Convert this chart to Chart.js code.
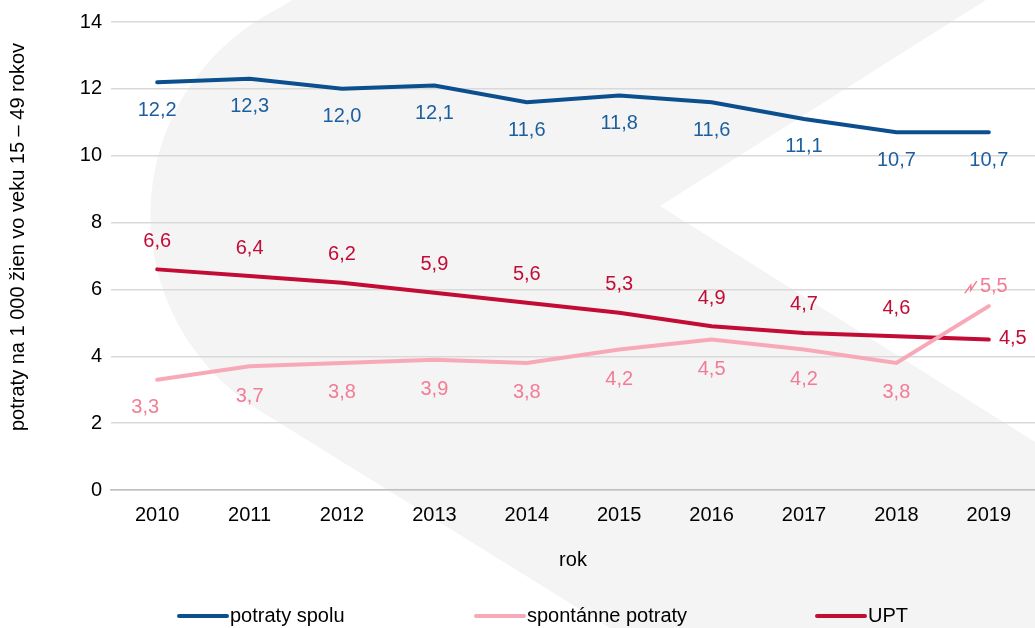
<!DOCTYPE html>
<html lang="sk">
<head>
<meta charset="utf-8">
<title>Potraty</title>
<script src="https://cdn.jsdelivr.net/npm/chart.js@4.4.1/dist/chart.umd.min.js"></script>
<style>
  html, body { margin: 0; padding: 0; background: #fff; }
  #wrap { width: 1035px; height: 628px; }
</style>
</head>
<body>
<div id="wrap"><canvas id="chart" width="1035" height="628"></canvas></div>
<script>
const years = ['2010', '2011', '2012', '2013', '2014', '2015', '2016', '2017', '2018', '2019'];
const potratySpolu = [12.2, 12.3, 12.0, 12.1, 11.6, 11.8, 11.6, 11.1, 10.7, 10.7];
const spontannePotraty = [3.3, 3.7, 3.8, 3.9, 3.8, 4.2, 4.5, 4.2, 3.8, 5.5];
const upt = [6.6, 6.4, 6.2, 5.9, 5.6, 5.3, 4.9, 4.7, 4.6, 4.5];
const yTicks = [0, 2, 4, 6, 8, 10, 12, 14];
const yTitle = 'potraty na 1 000 žien vo veku 15 – 49 rokov';

const FONT = "'Liberation Sans', Arial, sans-serif";
const fmt = (v) => v.toFixed(1).replace('.', ',');

// light grey chevron in the background
const watermark = {
  id: 'watermark',
  beforeDraw(chart) {
    const ctx = chart.ctx;
    ctx.save();
    ctx.fillStyle = '#f4f4f4';
    ctx.beginPath();
    ctx.moveTo(293, 0);
    ctx.lineTo(986, 0);
    ctx.lineTo(660, 206);
    ctx.lineTo(1035, 442);
    ctx.lineTo(1035, 628);
    ctx.lineTo(610, 628);
    ctx.arcTo(-70, 206, 293, 0, 230);
    ctx.closePath();
    ctx.fill();
    ctx.restore();
  },
};

// y title sits a bit above the middle of the plot, so draw it by hand
const sideTitle = {
  id: 'sideTitle',
  afterDraw(chart) {
    const ctx = chart.ctx;
    ctx.save();
    ctx.translate(18, 237);
    ctx.rotate(-Math.PI / 2);
    ctx.font = `20px ${FONT}`;
    ctx.fillStyle = '#000';
    ctx.textAlign = 'center';
    ctx.textBaseline = 'middle';
    ctx.fillText(yTitle, 0, 0);
    ctx.restore();
  },
};

// value labels, per dataset offset
const valueLabels = {
  id: 'valueLabels',
  afterDatasetsDraw(chart) {
    const ctx = chart.ctx;
    ctx.save();
    ctx.font = `20px ${FONT}`;
    ctx.textAlign = 'center';
    ctx.textBaseline = 'middle';
    chart.data.datasets.forEach((ds, di) => {
      const meta = chart.getDatasetMeta(di);
      ctx.fillStyle = ds.labelColor;
      meta.data.forEach((pt, i) => {
        let x = pt.x;
        let y = pt.y + ds.labelOffset;
        const last = i === meta.data.length - 1;
        if (di === 2 && last) {
          x = pt.x + 24;
          y = pt.y - 1;
        }
        if (di === 1 && i === 0) {
          x = pt.x - 12;
          y = pt.y + 28;
        }
        if (di === 1 && last) {
          x = pt.x + 5;
          y = pt.y - 20;
          // small leader mark
          ctx.save();
          ctx.strokeStyle = ds.labelColor;
          ctx.lineWidth = 1.5;
          ctx.beginPath();
          ctx.moveTo(x - 29, y + 7);
          ctx.lineTo(x - 23, y - 1);
          ctx.lineTo(x - 23, y + 4);
          ctx.lineTo(x - 17, y - 5);
          ctx.stroke();
          ctx.restore();
        }
        ctx.fillText(fmt(ds.data[i]), x, y);
      });
    });
    ctx.restore();
  },
};

// legend drawn by hand so the wide gaps match
const bottomLegend = {
  id: 'bottomLegend',
  afterDraw(chart) {
    const ctx = chart.ctx;
    const starts = [177, 474, 815];
    const y = 616;
    ctx.save();
    ctx.font = `20px ${FONT}`;
    ctx.textBaseline = 'middle';
    ctx.textAlign = 'left';
    chart.data.datasets.forEach((ds, i) => {
      const x = starts[i];
      ctx.strokeStyle = ds.borderColor;
      ctx.lineWidth = 4;
      ctx.lineCap = 'round';
      ctx.beginPath();
      ctx.moveTo(x + 2, y);
      ctx.lineTo(x + 50, y);
      ctx.stroke();
      ctx.fillStyle = '#000';
      ctx.fillText(ds.label, x + 53, y);
    });
    ctx.restore();
  },
};

new Chart(document.getElementById('chart'), {
  type: 'line',
  data: {
    labels: years,
    datasets: [
      {
        label: 'potraty spolu',
        data: potratySpolu,
        borderColor: '#0b4f8e',
        labelColor: '#1d5f9e',
        labelOffset: 28,
      },
      {
        label: 'spontánne potraty',
        data: spontannePotraty,
        borderColor: '#f8a9b8',
        labelColor: '#f27c95',
        labelOffset: 30,
      },
      {
        label: 'UPT',
        data: upt,
        borderColor: '#c20c36',
        labelColor: '#c20c36',
        labelOffset: -28,
      },
    ],
  },
  options: {
    responsive: false,
    animation: false,
    layout: { padding: { top: 22, right: 0, left: 0, bottom: 50 } },
    elements: {
      line: { borderWidth: 4, tension: 0, borderCapStyle: 'round' },
      point: { radius: 0, hoverRadius: 0 },
    },
    plugins: {
      legend: { display: false },
      tooltip: { enabled: false },
    },
    scales: {
      x: {
        offset: true,
        grid: { display: false, drawTicks: false },
        border: { color: '#bfbfbf', width: 1.5 },
        ticks: { padding: 13, color: '#000', font: { family: FONT, size: 20 } },
        title: {
          display: true,
          text: 'rok',
          color: '#000',
          font: { family: FONT, size: 20 },
          padding: { top: 0, bottom: 6 },
        },
        afterFit(scale) { scale.height = 88; },
      },
      y: {
        min: 0,
        max: 14,
        afterBuildTicks(scale) { scale.ticks = yTicks.map((v) => ({ value: v })); },
        grid: { color: '#d9d9d9', lineWidth: 1.5, drawTicks: false },
        border: { display: false },
        ticks: { padding: 9, color: '#000', font: { family: FONT, size: 20 } },
        title: { display: false, text: yTitle },
        afterFit(scale) { scale.width = 111; },
      },
    },
  },
  plugins: [watermark, sideTitle, valueLabels, bottomLegend],
});
</script>
</body>
</html>
